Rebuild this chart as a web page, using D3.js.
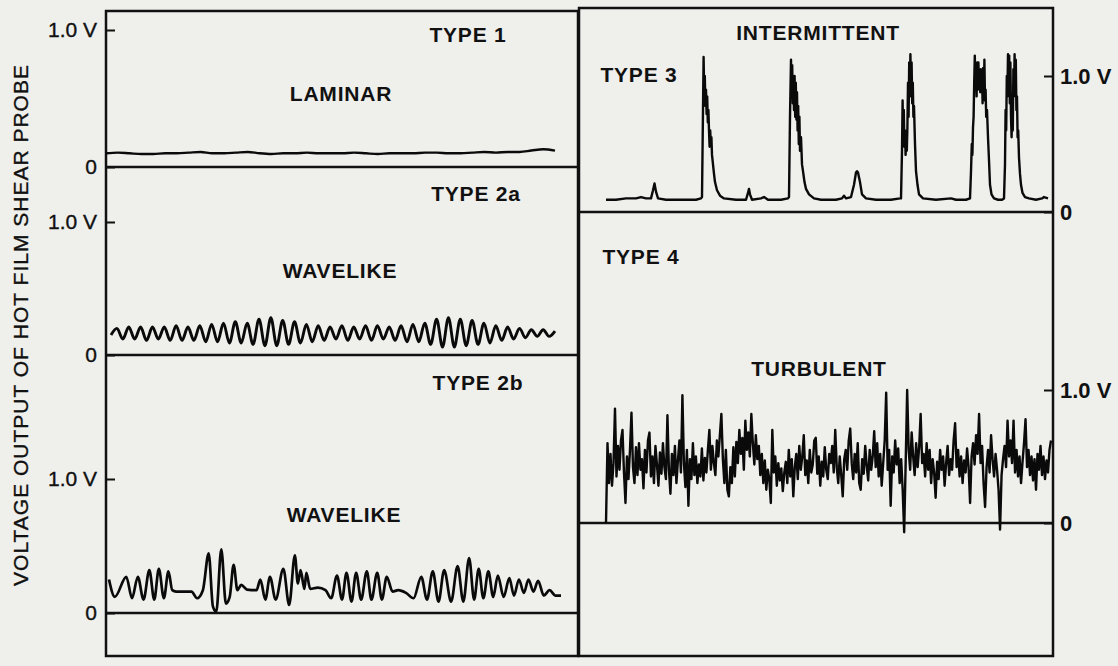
<!DOCTYPE html>
<html>
<head>
<meta charset="utf-8">
<script src="https://cdn.jsdelivr.net/npm/d3@7/dist/d3.min.js"></script>
<style>
  html, body { margin: 0; padding: 0; background: #efefec; }
  svg { display: block; }
  text { font-family: "Liberation Sans", Arial, sans-serif; fill: #111; }
</style>
</head>
<body>
<svg id="chart" width="1118" height="666"></svg>
<script>
// ---- Hot-film shear probe voltage traces (volts) ----

// Type 1, laminar: evenly sampled record
const laminarVolts = [0.10, 0.105, 0.10, 0.095, 0.095, 0.10, 0.10, 0.105, 0.11, 0.10,
  0.10, 0.105, 0.11, 0.10, 0.095, 0.10, 0.10, 0.105, 0.10, 0.10,
  0.10, 0.105, 0.10, 0.095, 0.10, 0.10, 0.10, 0.105, 0.105, 0.10,
  0.10, 0.105, 0.11, 0.105, 0.11, 0.11, 0.12, 0.13, 0.12];

// Type 2a, wavelike: successive crests and troughs, evenly spaced
const wave2aVolts = [0.15, 0.20, 0.12, 0.21, 0.12, 0.21, 0.11, 0.21, 0.12, 0.21,
  0.11, 0.22, 0.11, 0.21, 0.11, 0.22, 0.10, 0.23, 0.10, 0.24,
  0.09, 0.25, 0.09, 0.24, 0.08, 0.27, 0.07, 0.28, 0.07, 0.26,
  0.08, 0.25, 0.09, 0.23, 0.10, 0.22, 0.11, 0.21, 0.12, 0.22,
  0.11, 0.21, 0.12, 0.22, 0.11, 0.22, 0.12, 0.21, 0.11, 0.22,
  0.10, 0.23, 0.10, 0.24, 0.08, 0.27, 0.06, 0.28, 0.06, 0.27,
  0.07, 0.26, 0.08, 0.24, 0.09, 0.22, 0.11, 0.21, 0.12, 0.20,
  0.13, 0.19, 0.14, 0.19, 0.14, 0.18];

// Type 2b, wavelike: [time, volts]
const wave2bTrace = [
  [0, 0.25], [5.8, 0.12], [17.3, 0.27], [23, 0.11], [28.8, 0.27], [34.5, 0.10],
  [40.3, 0.32], [45.2, 0.10], [49.8, 0.33], [54.8, 0.11], [59.4, 0.31], [63.2, 0.17],
  [67, 0.16], [74.7, 0.16], [82.4, 0.16], [88, 0.11], [93.8, 0.17], [99.6, 0.445],
  [103.8, 0.05], [107.2, 0.01], [112.2, 0.475], [116.8, 0.07], [120.6, 0.12], [124.5, 0.36],
  [128.3, 0.17], [132.1, 0.21], [137.8, 0.175], [147.4, 0.17], [151.2, 0.25], [156.2, 0.10],
  [160.8, 0.27], [166.5, 0.10], [174.2, 0.33], [180, 0.06], [185.7, 0.43], [188.7, 0.22],
  [191.4, 0.32], [195.2, 0.18], [197.2, 0.30], [201, 0.18], [208.6, 0.19], [216.3, 0.17],
  [222, 0.11], [227.8, 0.28], [232.8, 0.10], [237.3, 0.30], [242.3, 0.085], [246.9, 0.30],
  [251.9, 0.10], [257.6, 0.31], [262.2, 0.10], [268, 0.30], [272.6, 0.10], [277.5, 0.27],
  [283.3, 0.16], [289, 0.17], [296.7, 0.15], [304.3, 0.11], [312, 0.27], [317.7, 0.10],
  [323.5, 0.31], [329.2, 0.085], [334.9, 0.32], [341.8, 0.085], [348.3, 0.35], [354, 0.085],
  [359.8, 0.41], [364.8, 0.10], [369.4, 0.33], [374, 0.11], [379, 0.31], [383.9, 0.12],
  [388.5, 0.28], [394.3, 0.12], [400, 0.26], [404.6, 0.13], [409.6, 0.25], [414.5, 0.15],
  [419.1, 0.25], [424.1, 0.16], [428.7, 0.24], [434.4, 0.13], [440.2, 0.17], [446, 0.13],
  [451.6, 0.13]
];

// Type 3, intermittent: [time, volts]
const intermittentTrace = [
  [0, 0.09], [10, 0.09], [20, 0.10], [30, 0.10], [35, 0.11], [40, 0.10], [45, 0.10],
  [47, 0.16], [48.5, 0.21], [50, 0.15], [52, 0.10], [60, 0.09], [70, 0.09], [80, 0.09],
  [90, 0.09], [95, 0.10],
  [96, 0.11], [97, 0.75], [97.6, 1.14], [98.2, 0.85], [98.8, 1.0], [99.4, 0.78], [100, 0.9],
  [100.6, 0.72], [101.2, 0.85], [101.8, 0.66], [102.4, 0.75], [103, 0.6], [103.6, 0.48],
  [104.2, 0.6], [104.8, 0.5], [105.4, 0.55], [106, 0.42], [107, 0.35], [108, 0.28],
  [109, 0.22], [111, 0.16], [114, 0.12], [118, 0.10],
  [130, 0.09], [140, 0.09], [142, 0.14], [143, 0.17], [144, 0.13], [146, 0.09], [155, 0.10],
  [158, 0.11], [162, 0.09], [175, 0.09], [182, 0.10],
  [183, 0.11], [184, 0.7], [185, 1.12], [185.6, 0.85], [186.2, 1.08], [186.8, 0.8],
  [187.4, 0.95], [188, 0.75], [188.6, 1.0], [189.2, 0.7], [189.8, 0.95], [190.4, 0.68],
  [191, 0.88], [191.6, 0.6], [192.2, 0.78], [192.8, 0.5], [193.4, 0.7], [194, 0.45],
  [195, 0.55], [196, 0.35], [197, 0.3], [198.5, 0.22], [200, 0.17], [203, 0.13],
  [208, 0.10], [215, 0.09],
  [230, 0.09], [236, 0.10], [238, 0.12], [240, 0.10], [245, 0.11], [248, 0.20], [250, 0.29],
  [251, 0.30], [252, 0.29], [254, 0.22], [256, 0.13], [260, 0.10], [270, 0.09], [285, 0.09],
  [294, 0.10],
  [295, 0.10], [296, 0.45], [296.6, 0.82], [297.2, 0.5], [297.8, 0.75], [298.4, 0.48],
  [299, 0.6], [299.6, 0.42], [300.2, 0.55], [300.8, 0.45], [301.4, 0.62], [302, 0.95],
  [302.6, 0.7], [303.2, 1.1], [303.8, 0.85], [304.4, 1.16], [305, 0.9], [305.6, 1.1],
  [306.2, 0.8], [306.8, 0.95], [307.4, 0.7], [308, 0.78], [309, 0.5], [310, 0.3],
  [311.5, 0.2], [313, 0.13], [317, 0.10],
  [330, 0.09], [345, 0.10], [350, 0.09], [360, 0.09],
  [364, 0.10], [365, 0.3], [365.8, 0.5], [366.4, 0.42], [367, 0.62], [367.6, 0.7],
  [368.2, 0.95], [368.8, 1.15], [369.4, 0.9], [370, 1.08], [370.6, 0.85], [371.2, 1.1],
  [371.8, 0.9], [372.4, 1.1], [373, 0.92], [373.6, 1.02], [374.2, 0.88], [374.8, 1.05],
  [375.4, 0.9], [376, 1.0], [376.6, 0.8], [377.2, 1.06], [377.8, 0.85], [378.4, 1.12],
  [379, 0.82], [379.6, 0.9], [380.2, 0.7], [381, 0.75], [382, 0.55], [383, 0.38],
  [384, 0.2], [385.5, 0.13], [388, 0.10],
  [392, 0.09], [396, 0.09],
  [398, 0.10], [399, 0.35], [399.6, 0.75], [400.2, 0.6], [400.8, 1.0], [401.4, 0.85],
  [402, 1.16], [402.6, 0.9], [403.2, 1.15], [403.8, 0.8], [404.4, 1.1], [405, 0.7],
  [405.6, 0.55], [406.2, 0.8], [406.8, 0.6], [407.4, 1.05], [408, 0.85], [408.6, 1.16],
  [409.2, 0.9], [409.8, 1.12], [410.4, 0.75], [411, 0.85], [411.6, 0.55], [412.2, 0.6],
  [413, 0.4], [414, 0.28], [415, 0.2], [416.5, 0.14], [419, 0.11], [423, 0.10],
  [430, 0.09], [436, 0.10], [438, 0.11], [442, 0.10]
];

// Type 4, turbulent: evenly sampled record
const turbulentVolts = [
  0.00, 0.60, 0.30, 0.52, 0.28, 0.45, 0.86, 0.35, 0.58, 0.40,
  0.62, 0.70, 0.38, 0.15, 0.50, 0.33, 0.55, 0.83, 0.42, 0.30,
  0.57, 0.36, 0.60, 0.40, 0.48, 0.26, 0.55, 0.38, 0.62, 0.68,
  0.35, 0.50, 0.30, 0.58, 0.44, 0.28, 0.53, 0.37, 0.60, 0.42,
  0.33, 0.81, 0.40, 0.22, 0.52, 0.36, 0.58, 0.30, 0.47, 0.62,
  0.38, 0.96, 0.45, 0.27, 0.55, 0.13, 0.48, 0.33, 0.60, 0.36,
  0.50, 0.30, 0.44, 0.35, 0.56, 0.32, 0.49, 0.38, 0.55, 0.70,
  0.40, 0.58, 0.45, 0.36, 0.62, 0.50, 0.66, 0.82, 0.48, 0.30,
  0.55, 0.25, 0.20, 0.42, 0.30, 0.57, 0.35, 0.61, 0.45, 0.70,
  0.52, 0.64, 0.40, 0.77, 0.55, 0.68, 0.50, 0.82, 0.60, 0.44,
  0.66, 0.48, 0.58, 0.36, 0.52, 0.30, 0.47, 0.25, 0.40, 0.33,
  0.15, 0.70, 0.38, 0.50, 0.28, 0.45, 0.32, 0.41, 0.24, 0.38,
  0.46, 0.30, 0.55, 0.35, 0.48, 0.20, 0.42, 0.52, 0.33, 0.58,
  0.40, 0.50, 0.66, 0.36, 0.47, 0.30, 0.55, 0.38, 0.44, 0.62,
  0.64, 0.37, 0.50, 0.28, 0.46, 0.35, 0.57, 0.40, 0.33, 0.52,
  0.45, 0.58, 0.38, 0.70, 0.42, 0.30, 0.50, 0.36, 0.20, 0.48,
  0.55, 0.40, 0.62, 0.71, 0.45, 0.33, 0.52, 0.38, 0.60, 0.30,
  0.25, 0.48, 0.37, 0.58, 0.43, 0.32, 0.55, 0.40, 0.50, 0.69,
  0.42, 0.60, 0.35, 0.52, 0.28, 0.45, 0.62, 0.98, 0.40, 0.55,
  0.13, 0.50, 0.38, 0.62, 0.44, 0.56, 0.30, 0.48, 0.25, -0.07,
  0.45, 1.00, 0.55, 0.40, 0.68, 0.50, 0.36, 0.60, 0.42, 0.57,
  0.82, 0.45, 0.52, 0.35, 0.60, 0.40, 0.55, 0.30, 0.48, 0.38,
  0.19, 0.46, 0.33, 0.55, 0.40, 0.50, 0.28, 0.45, 0.58, 0.36,
  0.48, 0.40, 0.62, 0.75, 0.42, 0.55, 0.35, 0.50, 0.30, 0.47,
  0.38, 0.56, 0.42, 0.15, 0.50, 0.60, 0.44, 0.66, 0.52, 0.82,
  0.45, 0.58, 0.30, 0.12, 0.42, 0.55, 0.38, 0.66, 0.48, 0.35,
  0.52, 0.40, 0.25, -0.05, 0.36, 0.48, 0.58, 0.42, 0.77, 0.50,
  0.62, 0.45, 0.77, 0.38, 0.55, 0.35, 0.50, 0.30, 0.46, 0.60,
  0.78, 0.42, 0.55, 0.36, 0.50, 0.32, 0.48, 0.25, 0.52, 0.40,
  0.58, 0.36, 0.50, 0.33, 0.47, 0.38, 0.55, 0.62
];

// Axis tick values and labels
const tickVolts = [0, 1];
const tickLabel = v => (v === 0 ? "0" : "1.0 V");
const axisTitle = "VOLTAGE OUTPUT OF HOT FILM SHEAR PROBE";

// ---- Layout ----
const svg = d3.select("#chart");
const ink = "#111";

const leftFrame = { x0: 106, x1: 578, top: 11, bottom: 656 };
const rightFrame = { x0: 579, x1: 1053, top: 8, bottom: 656 };

const strips = [
  { name: "type1", frame: leftFrame, side: "left", zero: 167, one: 30,
    xRange: [106, 555], curve: d3.curveMonotoneX, width: 2.4,
    points: laminarVolts.map((v, i) => [i, v]) },
  { name: "type2a", frame: leftFrame, side: "left", zero: 355, one: 222,
    xRange: [111, 555], curve: d3.curveMonotoneX, width: 2.9,
    points: wave2aVolts.map((v, i) => [i, v]) },
  { name: "type2b", frame: leftFrame, side: "left", zero: 613, one: 479,
    xRange: [109, 561], curve: d3.curveMonotoneX, width: 2.7,
    points: wave2bTrace },
  { name: "type3", frame: rightFrame, side: "right", zero: 212, one: 76,
    xRange: [606, 1048], curve: d3.curveLinear, width: 2.4,
    points: intermittentTrace },
  { name: "type4", frame: rightFrame, side: "right", zero: 523, one: 390,
    xRange: [606, 1051], curve: d3.curveLinear, width: 2.4,
    points: turbulentVolts.map((v, i) => [i, v]) }
];

// Outer frames
[leftFrame, rightFrame].forEach(f => {
  svg.append("rect")
    .attr("x", f.x0).attr("y", f.top)
    .attr("width", f.x1 - f.x0).attr("height", f.bottom - f.top)
    .attr("fill", "none").attr("stroke", ink).attr("stroke-width", 2.5);
});

strips.forEach(s => {
  const y = d3.scaleLinear().domain([0, 1]).range([s.zero, s.one]);
  const x = d3.scaleLinear()
    .domain(d3.extent(s.points, d => d[0]))
    .range(s.xRange);

  // zero line spanning the panel
  svg.append("line")
    .attr("x1", s.frame.x0).attr("x2", s.frame.x1)
    .attr("y1", y(0)).attr("y2", y(0))
    .attr("stroke", ink).attr("stroke-width", 2.5);

  // voltage ticks, pointing inward
  const axis = (s.side === "left" ? d3.axisLeft(y) : d3.axisRight(y))
    .tickValues(tickVolts).tickFormat(tickLabel)
    .tickSize(-9).tickPadding(s.side === "left" ? 9 : 7);
  const g = svg.append("g")
    .attr("transform", `translate(${s.side === "left" ? s.frame.x0 : s.frame.x1},0)`)
    .attr("color", ink)
    .attr("font-family", null)
    .call(axis);
  g.select(".domain").remove();
  g.selectAll(".tick line").attr("stroke-width", 2);
  g.selectAll(".tick text")
    .attr("font-size", s.side === "left" ? 21 : 22)
    .attr("font-weight", s.side === "left" ? "normal" : "bold")
    .attr("stroke", s.side === "left" ? ink : null)
    .attr("stroke-width", s.side === "left" ? 0.35 : null);

  // the trace
  svg.append("path")
    .datum(s.points)
    .attr("fill", "none")
    .attr("stroke", "#0a0a0a")
    .attr("stroke-width", s.width)
    .attr("stroke-linejoin", "round")
    .attr("d", d3.line().x(d => x(d[0])).y(d => y(d[1])).curve(s.curve));
});

// Panel captions
const captions = [
  { text: "TYPE 1", x: 468, y: 42 },
  { text: "LAMINAR", x: 341, y: 101 },
  { text: "TYPE 2a", x: 476, y: 201 },
  { text: "WAVELIKE", x: 340, y: 278 },
  { text: "TYPE 2b", x: 478, y: 390 },
  { text: "WAVELIKE", x: 344, y: 522 },
  { text: "INTERMITTENT", x: 818, y: 40 },
  { text: "TYPE 3", x: 639, y: 82 },
  { text: "TYPE 4", x: 641, y: 264 },
  { text: "TURBULENT", x: 819, y: 376 }
];
svg.append("g").selectAll("text").data(captions).join("text")
  .attr("x", d => d.x).attr("y", d => d.y)
  .attr("text-anchor", "middle")
  .attr("font-size", 21).attr("font-weight", "bold")
  .attr("letter-spacing", 0.8)
  .text(d => d.text);

// Shared vertical axis title
svg.append("text")
  .attr("transform", "translate(28,325) rotate(-90)")
  .attr("text-anchor", "middle")
  .attr("font-size", 21)
  .attr("letter-spacing", 1)
  .attr("stroke", ink)
  .attr("stroke-width", 0.35)
  .text(axisTitle);
</script>
</body>
</html>
